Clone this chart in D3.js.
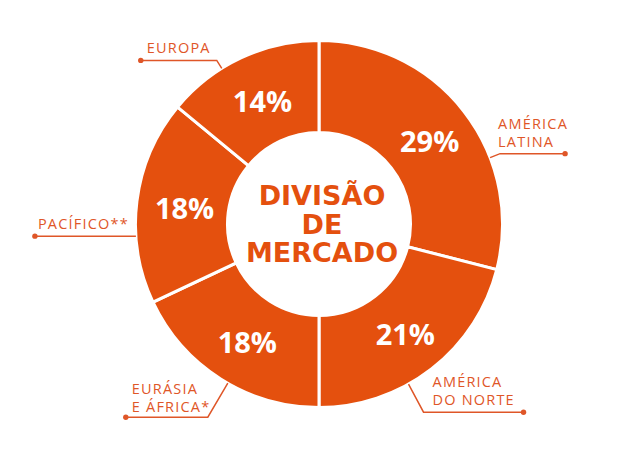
<!DOCTYPE html>
<html>
<head>
<meta charset="utf-8">
<script src="https://cdn.jsdelivr.net/npm/d3@7"></script>
<style>
  html, body { margin: 0; padding: 0; background: #fff; }
  svg { display: block; }
</style>
</head>
<body>
<div id="chart"></div>
<script>
// ---- data ----
const regions = ["AMÉRICA LATINA", "AMÉRICA DO NORTE", "EURÁSIA E ÁFRICA*", "PACÍFICO**", "EUROPA"];
const labelLines = [["AMÉRICA", "LATINA"], ["AMÉRICA", "DO NORTE"], ["EURÁSIA", "E ÁFRICA*"], ["PACÍFICO**"], ["EUROPA"]];
const shares = [29, 21, 18, 18, 14];
const centerTitle = ["DIVISÃO", "DE", "MERCADO"];

// ---- layout (not data) ----
const W = 620, H = 456;
const cx = 319, cy = 224;
const rOuter = 183.5, rInner = 91.5;
const orange = "#E4500E";
const labelColor = "#DF5628";
// leader line layout per slice: anchor angle on outer rim (deg), elbow offset, horizontal run, text offset, line gap
const leaders = [
  { ang: 68.8,  elbow: [10, -4],  run: 65,   text: [-2, -25], gap: 18 },
  { ang: 150.8, elbow: [15, 28],  run: 100,  text: [9, -25],  gap: 18 },
  { ang: 209.8, elbow: [-20, 34], run: -82,  text: [-76, -23], gap: 18 },
  { ang: 266.2, elbow: [0, 0],    run: -101, text: [-98, -7], gap: 18 },
  { ang: 328.0, elbow: [-5, -8],  run: -76,  text: [-70, -7], gap: 18 }
];

const svg = d3.select("#chart").append("svg").attr("width", W).attr("height", H);
const g = svg.append("g").attr("transform", `translate(${cx},${cy})`);

const pie = d3.pie().sort(null).value(d => d).startAngle(0).endAngle(2 * Math.PI);
const arcs = pie(shares);
const arc = d3.arc().innerRadius(rInner).outerRadius(rOuter);
const labelArc = d3.arc().innerRadius(rInner).outerRadius(rOuter);

g.selectAll("path.slice").data(arcs).join("path")
  .attr("class", "slice")
  .attr("d", arc)
  .attr("fill", orange)
  .attr("stroke", "#fff")
  .attr("stroke-width", 3);

g.selectAll("text.pct").data(arcs).join("text")
  .attr("class", "pct")
  .attr("transform", d => { const c = labelArc.centroid(d); return `translate(${c[0] + 2},${c[1] + 2})`; })
  .attr("text-anchor", "middle")
  .attr("dy", "0.36em")
  .attr("fill", "#fff")
  .attr("font-family", "'Open Sans', sans-serif")
  .attr("font-weight", 700)
  .attr("font-size", 29)
  .text(d => d.data + "%");

// center title
g.selectAll("text.title").data(centerTitle).join("text")
  .attr("class", "title")
  .attr("x", 3)
  .attr("y", (d, i) => -19 + i * 28.5)
  .attr("text-anchor", "middle")
  .attr("fill", orange)
  .attr("font-family", "'DejaVu Sans', sans-serif")
  .attr("font-weight", 700)
  .attr("font-size", 27)
  .text(d => d);

// leaders
const lg = svg.append("g");
regions.forEach((name, i) => {
  const L = leaders[i];
  const a = L.ang * Math.PI / 180;
  const ax = cx + rOuter * Math.sin(a), ay = cy - rOuter * Math.cos(a);
  const ex = ax + L.elbow[0], ey = ay + L.elbow[1];
  const dx = ex + L.run, dy = ey;
  lg.append("path")
    .attr("d", d3.line()([[ax, ay], [ex, ey], [dx, dy]]))
    .attr("fill", "none")
    .attr("stroke", labelColor)
    .attr("stroke-width", 1.5);
  lg.append("circle").attr("cx", dx).attr("cy", dy).attr("r", 2.7).attr("fill", labelColor);
  const t = lg.append("text")
    .attr("fill", labelColor)
    .attr("font-family", "'Open Sans', sans-serif")
    .attr("font-weight", 400)
    .attr("font-size", 14.5)
    .attr("letter-spacing", 1.2);
  labelLines[i].forEach((ln, j) => {
    t.append("tspan").attr("x", ex + L.text[0]).attr("y", ey + L.text[1] + j * L.gap).text(ln);
  });
});
</script>
</body>
</html>
